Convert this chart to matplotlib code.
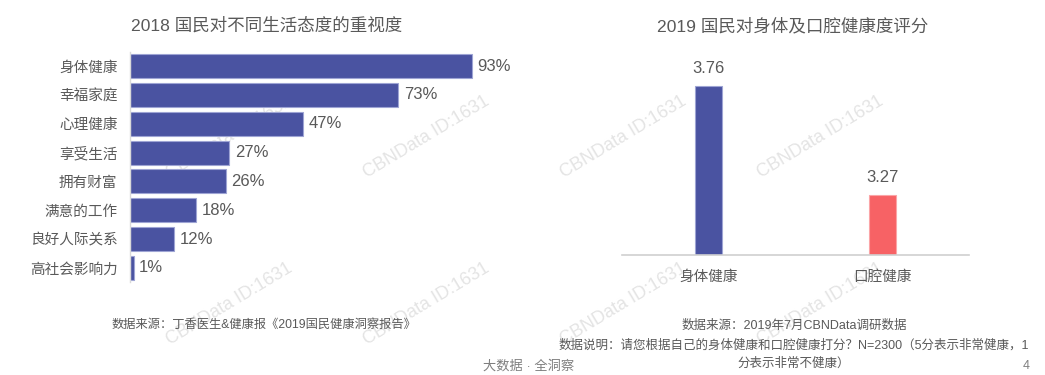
import matplotlib
matplotlib.use("Agg")
import matplotlib.pyplot as plt

plt.rcParams['font.family'] = ['Liberation Sans', 'Noto Sans CJK SC', 'DejaVu Sans']

# ---- data ----
attitudes = ["身体健康", "幸福家庭", "心理健康", "享受生活", "拥有财富", "满意的工作", "良好人际关系", "高社会影响力"]
attitude_pct = [93, 73, 47, 27, 26, 18, 12, 1]

score_cats = ["身体健康", "口腔健康"]
score_vals = [3.76, 3.27]

title_left = "2018 国民对不同生活态度的重视度"
title_right = "2019 国民对身体及口腔健康度评分"
source_left = "数据来源：丁香医生&健康报《2019国民健康洞察报告》"
source_right = ["数据来源：2019年7月CBNData调研数据",
                "数据说明：请您根据自己的身体健康和口腔健康打分？N=2300（5分表示非常健康，1",
                "分表示非常不健康）"]
footer = "大数据 · 全洞察"
page_no = "4"
watermark = "CBNData ID:1631"

W, H = 1045, 375
BLUE = "#4A53A1"
BLUE_EDGE = "#9EA4D4"
RED = "#F76265"
RED_EDGE = "#FBA5A7"
TXT = "#595959"

fig = plt.figure(figsize=(W / 100, H / 100), dpi=100)

def fx(px):
    return px / W

def fy(py):
    return 1 - py / H

# watermarks (behind everything), only those that fit fully in the picture
for x0 in (170, 367, 564, 761):
    for y0 in (178, 345):
        fig.text(fx(x0), fy(y0), watermark, rotation=31, rotation_mode='anchor',
                 ha='left', va='baseline', fontsize=13, color="#e4e4e4", zorder=-1)

# ---- left chart ----
ax1 = fig.add_axes([fx(130), fy(282.4), fx(367.5), 230.8 / H])
ax1.patch.set_alpha(0)
ypos = list(range(len(attitudes)))
ax1.barh(ypos, attitude_pct, height=0.83, color=BLUE, edgecolor=BLUE_EDGE, linewidth=0.8)
ax1.set_xlim(0, 100)
ax1.set_ylim(len(attitudes) - 0.5, -0.5)
ax1.set_yticks(ypos)
ax1.set_yticklabels(attitudes, fontsize=10.5, color=TXT)
ax1.tick_params(axis='y', length=0, pad=9)
ax1.set_xticks([])
for s in ["top", "right", "bottom"]:
    ax1.spines[s].set_visible(False)
ax1.spines["left"].set_color("#d9d9d9")
ax1.spines["left"].set_linewidth(1.0)
for y, v in zip(ypos, attitude_pct):
    ax1.annotate(f"{v}%", xy=(v, y), xytext=(4, 0), textcoords="offset points",
                 ha='left', va='center', fontsize=12, color=TXT)

fig.text(fx(267), fy(25), title_left, ha='center', va='center', fontsize=12.6, color=TXT)

# ---- right chart ----
ax2 = fig.add_axes([fx(622), fy(255), fx(347), 205 / H])
ax2.patch.set_alpha(0)
xpos = list(range(len(score_cats)))
ax2.bar(xpos, score_vals, width=0.156, color=[BLUE, RED], edgecolor=[BLUE_EDGE, RED_EDGE], linewidth=0.8)
ax2.set_xlim(-0.5, 1.5)
ax2.set_ylim(3.0, 3.92)
ax2.set_xticks(xpos)
ax2.set_xticklabels(score_cats, fontsize=10.5, color=TXT)
ax2.tick_params(axis='x', length=0, pad=11)
ax2.set_yticks([])
for s in ["top", "right", "left"]:
    ax2.spines[s].set_visible(False)
ax2.spines["bottom"].set_color("#d0d0d0")
ax2.spines["bottom"].set_linewidth(1.2)
for x, v in zip(xpos, score_vals):
    ax2.annotate(f"{v:.2f}", xy=(x, v), xytext=(0, 12.5), textcoords="offset points",
                 ha='center', va='center', fontsize=12, color=TXT)

fig.text(fx(793), fy(26), title_right, ha='center', va='center', fontsize=12.6, color=TXT)

# ---- footnotes ----
fig.text(fx(264), fy(325), source_left, ha='center', va='center', fontsize=8.8, color=TXT)
for k, line in enumerate(source_right):
    fig.text(fx(794), fy(326 + 19 * k), line, ha='center', va='center', fontsize=9, color=TXT)
fig.text(fx(483), fy(366), footer, ha='left', va='center', fontsize=9.5, color="#7f7f7f")
fig.text(fx(1030), fy(366), page_no, ha='right', va='center', fontsize=9, color="#7f7f7f")

fig.savefig("out.png", dpi=100, facecolor="white")
